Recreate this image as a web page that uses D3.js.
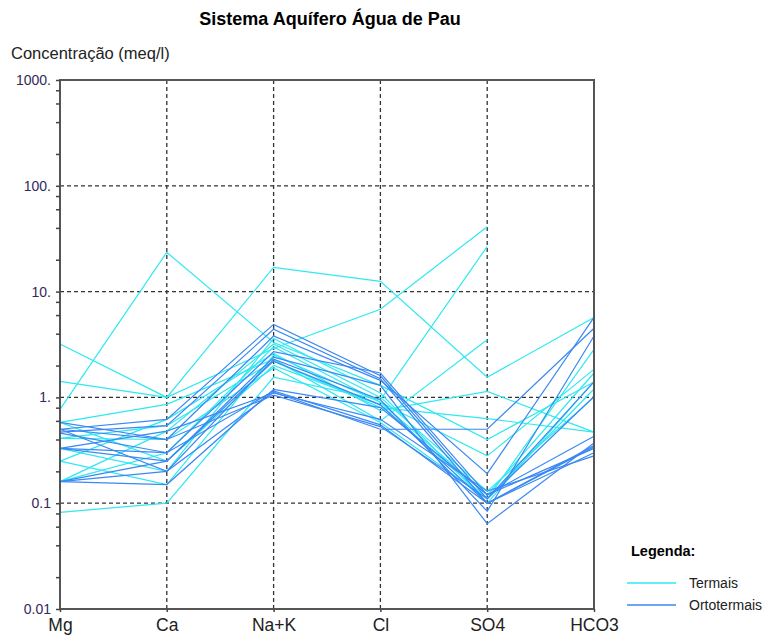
<!DOCTYPE html>
<html>
<head>
<meta charset="utf-8">
<script src="https://cdn.jsdelivr.net/npm/d3@7"></script>
<style>
  body { margin: 0; background: #fff; }
  text { font-family: "Liberation Sans", Arial, sans-serif; }
</style>
</head>
<body>
<svg id="chart" width="764" height="641"></svg>
<script>
// ions on the x axis
var ions = ["Mg", "Ca", "Na+K", "Cl", "SO4", "HCO3"];

// y tick labels (meq/l)
var yTicks = [0.01, 0.1, 1, 10, 100, 1000];
var yTickLabels = ["0.01", "0.1", "1.", "10.", "100.", "1000."];

// Termais samples, values in ion order (null = not measured)
var termais = [
  [3.2, 1.0, 16.9, 12.5, 1.55, 5.7],
  [0.77, 23.5, 3.3, 1.3, 0.40, 1.4],
  [1.42, 1.0, 2.9, 6.8, 41, null],
  [0.082, 0.10, 1.55, 0.95, 26.7, null],
  [0.58, 0.86, 2.3, 0.60, 3.5, null],
  [0.25, 0.62, 2.6, 0.75, 1.14, 0.47],
  [0.41, 0.54, 2.2, 0.80, 0.63, 0.47],
  [0.16, 0.30, 3.0, 0.90, 0.28, 1.84],
  [0.58, 0.25, 2.0, 0.85, 0.11, 2.84],
  [0.33, 0.20, 3.6, 1.1, 0.10, 1.42],
  [0.25, 0.15, 2.5, 0.90, 0.12, 1.7],
  [0.41, 0.40, 1.9, 0.58, 0.11, 1.2],
  [0.16, 0.48, 3.2, 1.0, 0.13, 1.0]
];

// Ortotermais samples
var ortotermais = [
  [0.50, 0.62, 4.9, 1.6, 0.11, 1.02],
  [0.47, 0.54, 4.4, 1.5, 0.10, 0.35],
  [0.50, 0.40, 3.8, 1.45, 0.19, 5.7],
  [0.33, 0.30, 2.7, 1.7, 0.12, 0.43],
  [0.33, 0.25, 2.4, 1.3, 0.064, 0.37],
  [0.16, 0.20, 2.3, 0.95, 0.084, 3.8],
  [0.16, 0.15, 1.19, 0.80, 0.12, 0.33],
  [0.46, 0.30, 1.15, 0.55, 0.10, 0.30],
  [0.50, 0.20, 1.12, 0.50, 0.50, 4.5],
  [0.33, 0.48, 1.1, 0.62, 0.13, 0.28],
  [0.16, 0.25, 2.2, 0.85, 0.10, 0.34],
  [0.58, 0.40, 1.05, 0.53, 0.11, 1.4]
];

var colorTermais = "#2ee8f2";
var colorOrto = "#3a88f2";

var svg = d3.select("#chart");
var plotLeft = 60, plotRight = 594, plotTop = 80, plotBottom = 609;

var x = d3.scalePoint().domain(ions).range([plotLeft, plotRight]);
var y = d3.scaleLog().domain([0.01, 1000]).range([plotBottom, plotTop]);

// title
svg.append("text")
  .attr("x", 330).attr("y", 25)
  .attr("text-anchor", "middle")
  .attr("font-size", 18).attr("font-weight", "bold")
  .text("Sistema Aquífero Água de Pau");

svg.append("text")
  .attr("x", 11).attr("y", 59)
  .attr("font-size", 16.5).attr("fill", "#222")
  .text("Concentração (meq/l)");

// dashed grid
var grid = svg.append("g").attr("stroke", "#333").attr("stroke-width", 1.3).attr("stroke-dasharray", "4,3");
grid.selectAll("line.h")
  .data(yTicks.slice(1, -1))
  .enter().append("line")
  .attr("x1", plotLeft).attr("x2", plotRight)
  .attr("y1", function(d) { return y(d); }).attr("y2", function(d) { return y(d); });
grid.selectAll("line.v")
  .data(ions.slice(1, -1))
  .enter().append("line")
  .attr("y1", plotTop).attr("y2", plotBottom)
  .attr("x1", function(d) { return x(d); }).attr("x2", function(d) { return x(d); });

// lines
var line = d3.line()
  .defined(function(d) { return d != null; })
  .x(function(d, i) { return x(ions[i]); })
  .y(function(d) { return y(d); });

svg.append("g").selectAll("path")
  .data(termais)
  .enter().append("path")
  .attr("d", line)
  .attr("fill", "none")
  .attr("stroke", colorTermais)
  .attr("stroke-width", 1.2);

svg.append("g").selectAll("path")
  .data(ortotermais)
  .enter().append("path")
  .attr("d", line)
  .attr("fill", "none")
  .attr("stroke", colorOrto)
  .attr("stroke-width", 1.2);

// frame
svg.append("rect")
  .attr("x", plotLeft).attr("y", plotTop)
  .attr("width", plotRight - plotLeft).attr("height", plotBottom - plotTop)
  .attr("fill", "none").attr("stroke", "#555").attr("stroke-width", 2);

// y axis with minor ticks
var minor = [];
yTicks.forEach(function(t, i) {
  if (i < yTicks.length - 1) [2, 4, 6, 8].forEach(function(m) { minor.push(t * m); });
});
var yAxis = d3.axisLeft(y)
  .tickValues(yTicks.concat(minor))
  .tickSize(4)
  .tickFormat(function(d) { var i = yTicks.indexOf(d); return i >= 0 ? yTickLabels[i] : ""; });
var ya = svg.append("g").attr("transform", "translate(" + plotLeft + ",0)").call(yAxis);
ya.select(".domain").remove();
ya.selectAll("line").attr("stroke", "#444").attr("stroke-width", 1.5);
ya.selectAll("text")
  .attr("font-size", 14).attr("fill", "#35285a")
  .attr("font-family", "Liberation Sans, Arial, sans-serif")
  .attr("x", -9);

// x axis
var xAxis = d3.axisBottom(x).tickSize(3).tickPadding(7);
var xa = svg.append("g").attr("transform", "translate(0," + plotBottom + ")").call(xAxis);
xa.select(".domain").remove();
xa.selectAll("line").attr("stroke", "#444").attr("stroke-width", 1.5);
xa.selectAll("text")
  .attr("font-size", 17.5).attr("fill", "#222")
  .attr("font-family", "Liberation Sans, Arial, sans-serif");

// legend
var legend = svg.append("g");
legend.append("text")
  .attr("x", 631).attr("y", 556)
  .attr("font-size", 14.5).attr("font-weight", "bold")
  .text("Legenda:");
var legendItems = [["Termais", colorTermais], ["Ortotermais", colorOrto]];
legend.selectAll("g.item")
  .data(legendItems)
  .enter().append("g")
  .attr("transform", function(d, i) { return "translate(0," + (583 + i * 22) + ")"; })
  .each(function(d) {
    var g = d3.select(this);
    g.append("line").attr("x1", 627).attr("x2", 676).attr("y1", 0).attr("y2", 0)
      .attr("stroke", d[1]).attr("stroke-width", 1.5);
    g.append("text").attr("x", 689).attr("y", 5)
      .attr("font-size", 14).attr("fill", "#222").text(d[0]);
  });
</script>
</body>
</html>
